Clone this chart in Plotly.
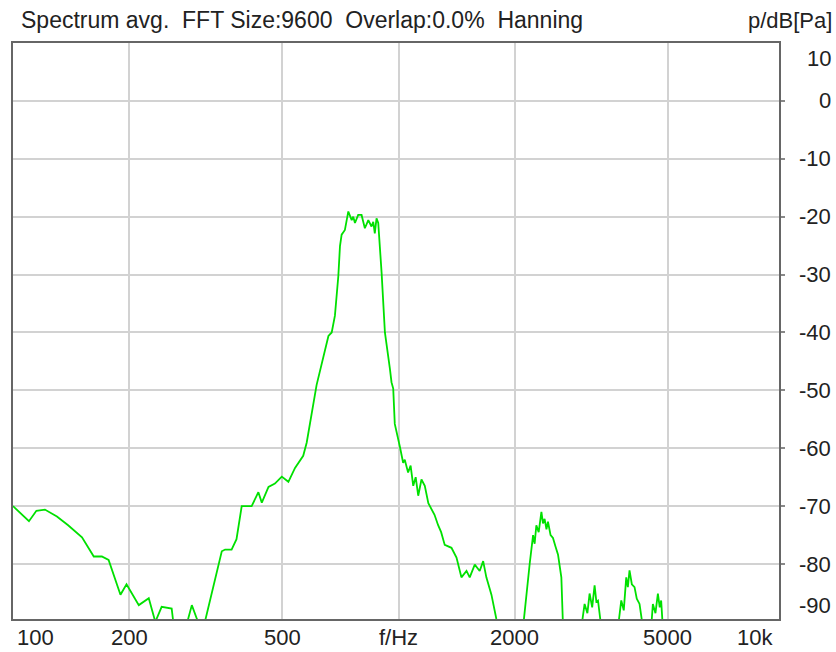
import math
import plotly.graph_objects as go

# spectrum (Hz, dB re 1 Pa); values below -89.5 are clipped by the frame
freq = [100, 110, 115, 121, 130, 139, 151, 162, 170, 177, 190, 197, 212, 225, 234, 243,
        258, 261, 282, 291, 300, 312, 348, 355, 369, 380, 392, 416, 433, 442, 460, 478,
        498, 518, 539, 566, 578, 595, 613, 658, 671, 684, 698, 705, 712, 726, 741, 756,
        763, 771, 786, 802, 818, 835, 851, 860, 868, 877, 886, 904, 922, 950, 959, 969,
        978, 1008, 1028, 1038, 1059, 1075, 1092, 1108, 1125, 1147, 1170, 1195, 1218, 1240,
        1267, 1290, 1318, 1372, 1414, 1456, 1501, 1530, 1577, 1624, 1658, 1690, 1742, 1794,
        1939, 2104, 2189, 2210, 2234, 2255, 2278, 2310, 2348, 2370, 2393, 2420, 2442, 2480,
        2516, 2555, 2593, 2645, 2672, 2807, 2980, 3039, 3090, 3131, 3180, 3226, 3260, 3292,
        3358, 3521, 3709, 3783, 3840, 3897, 3935, 3974, 4030, 4095, 4150, 4219, 4305, 4391,
        4523, 4569, 4640, 4708, 4760, 4801, 4849, 5500, 9700]
level = [-70.0, -72.6, -70.8, -70.6, -71.8, -73.3, -75.4, -78.7, -78.7, -79.3, -85.3, -83.5,
         -87.1, -85.9, -90.0, -87.4, -87.7, -90.5, -90.5, -87.1, -89.5, -91.0, -77.8, -77.5,
         -77.5, -75.7, -70.0, -70.0, -67.6, -69.4, -66.7, -66.1, -64.9, -65.8, -63.4, -61.3,
         -59.0, -54.0, -49.1, -40.6, -40.0, -37.1, -30.3, -25.1, -23.1, -22.3, -19.1, -20.6,
         -20.0, -21.1, -19.7, -19.7, -22.0, -20.6, -21.7, -20.9, -22.9, -20.3, -21.1, -29.7,
         -40.0, -46.3, -48.6, -49.7, -55.8, -59.7, -62.5, -62.0, -64.2, -63.0, -66.5, -65.0,
         -68.2, -65.4, -66.5, -69.5, -70.5, -71.5, -73.3, -74.5, -76.7, -77.2, -78.9, -82.3,
         -81.2, -82.3, -80.1, -81.2, -79.5, -82.3, -85.3, -89.5, -96.0, -91.0, -80.0, -77.0,
         -75.0, -76.5, -73.3, -74.5, -71.0, -73.0, -72.2, -74.0, -72.7, -75.0, -75.5, -77.0,
         -78.4, -82.3, -91.0, -96.0, -91.0, -86.9, -88.5, -85.1, -87.5, -83.7, -86.5, -86.3,
         -91.0, -96.0, -91.0, -86.3, -88.0, -82.3, -84.0, -81.1, -83.5, -84.0, -86.0, -86.9,
         -91.0, -95.0, -91.0, -86.9, -88.5, -85.1, -87.5, -86.3, -91.0, -100.0, -100.0]

x_grid = [200, 500, 1000, 2000, 5000]
x_label_vals = [200, 500, 1000, 2000, 5000]
x_label_text = ["200", "500", "f/Hz", "2000", "5000"]
y_grid = [0, -10, -20, -30, -40, -50, -60, -70, -80]
y_label_vals = [0, -10, -20, -30, -40, -50, -60, -70, -80]

title_text = "Spectrum avg.  FFT Size:9600  Overlap:0.0%  Hanning"
unit_text = "p/dB[Pa]"

FONT = dict(family="Liberation Sans, Arial, sans-serif", size=22, color="#222222")
TFONT = dict(family="Liberation Sans, Arial, sans-serif", size=23, color="#222222")

fig = go.Figure()
fig.add_trace(go.Scatter(
    x=freq, y=level, mode="lines",
    line=dict(color="#00e000", width=1.8),
    hoverinfo="skip", showlegend=False
))

ann = []
ann.append(dict(text=title_text, xref="paper", yref="paper", x=0, y=1,
                xanchor="left", yanchor="middle", xshift=6, yshift=23, showarrow=False, font=TFONT))
ann.append(dict(text=unit_text, xref="paper", yref="paper", x=1, y=1,
                xanchor="right", yanchor="middle", xshift=55, yshift=23, showarrow=False, font=FONT))

# x labels: edges are pulled inside the frame like the original
ann.append(dict(text="100", xref="paper", yref="paper", x=0, y=0, xanchor="left",
                yanchor="middle", xshift=2, yshift=-18, showarrow=False, font=FONT))
for v, t in zip(x_label_vals, x_label_text):
    # annotations on a log axis take log10 positions
    ann.append(dict(text=t, xref="x", yref="paper", x=math.log10(v), y=0, xanchor="center",
                    yanchor="middle", yshift=-18, showarrow=False, font=FONT))
ann.append(dict(text="10k", xref="paper", yref="paper", x=1, y=0, xanchor="right",
                yanchor="middle", xshift=-4, yshift=-18, showarrow=False, font=FONT))

# y labels, right aligned
ann.append(dict(text="10", xref="paper", yref="paper", x=1, y=1, xanchor="right",
                yanchor="middle", xshift=54, yshift=-15, showarrow=False, font=FONT))
for v in y_label_vals:
    ann.append(dict(text=str(v), xref="paper", yref="y", x=1, y=v, xanchor="right",
                    yanchor="middle", xshift=54, showarrow=False, font=FONT))
ann.append(dict(text="-90", xref="paper", yref="paper", x=1, y=0, xanchor="right",
                yanchor="middle", xshift=54, yshift=14, showarrow=False, font=FONT))

fig.update_layout(
    width=836, height=652,
    margin=dict(l=11, r=57, t=43, b=33),
    paper_bgcolor="white", plot_bgcolor="white",
    annotations=ann,
    xaxis=dict(type="log", range=[2, 3.987], tickvals=x_grid, showticklabels=False,
               showgrid=True, gridcolor="#d2d2d2", gridwidth=1.5, zeroline=False,
               showline=True, mirror=True, linecolor="#666666", linewidth=2, ticks=""),
    yaxis=dict(side="right", range=[-89.5, 10], tickvals=y_grid, showticklabels=False,
               showgrid=True, gridcolor="#d2d2d2", gridwidth=1.5, zeroline=False,
               showline=True, mirror=True, linecolor="#666666", linewidth=2,
               ticks="outside", ticklen=4, tickcolor="#888888", tickwidth=1.5),
)

# drop the page's default body margin so the figure fills the window exactly
fig.write_html("out.html", config={"displayModeBar": False},
               post_script="document.body.style.margin='0';")
